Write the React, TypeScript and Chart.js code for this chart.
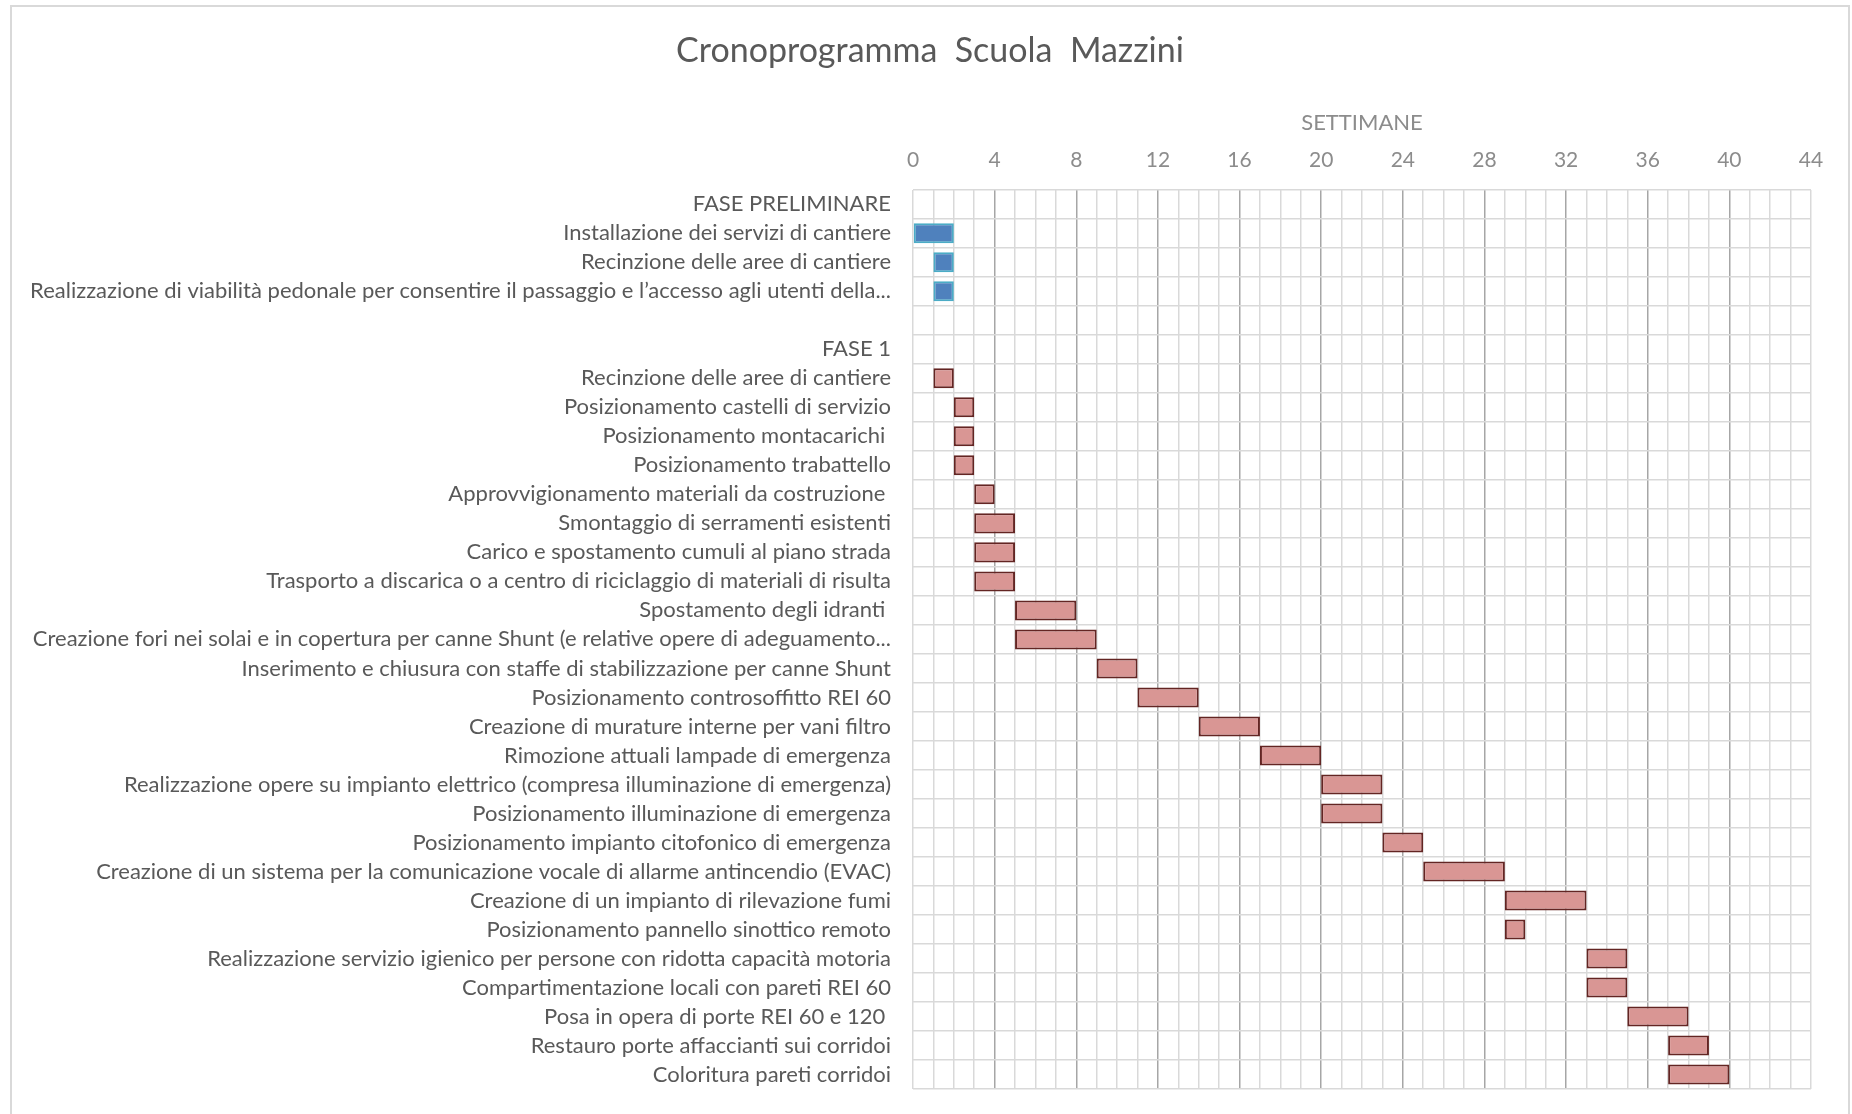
import React, { useEffect, useRef } from "react";
import { Chart, registerables } from "chart.js";

Chart.register(...registerables);

const categories: string[] = [
  "FASE PRELIMINARE",
  "Installazione dei servizi di cantiere",
  "Recinzione delle aree di cantiere",
  "Realizzazione di viabilità pedonale per consentire il passaggio e l’accesso agli utenti della...",
  "",
  "FASE 1",
  "Recinzione delle aree di cantiere",
  "Posizionamento castelli di servizio",
  "Posizionamento montacarichi ",
  "Posizionamento trabattello",
  "Approvvigionamento materiali da costruzione ",
  "Smontaggio di serramenti esistenti",
  "Carico e spostamento cumuli al piano strada",
  "Trasporto a discarica o a centro di riciclaggio di materiali di risulta",
  "Spostamento degli idranti ",
  "Creazione fori nei solai e in copertura per canne Shunt (e relative opere di adeguamento...",
  "Inserimento e chiusura con staffe di stabilizzazione per canne Shunt",
  "Posizionamento controsoffitto REI 60",
  "Creazione di murature interne per vani filtro",
  "Rimozione attuali lampade di emergenza",
  "Realizzazione opere su impianto elettrico (compresa illuminazione di emergenza)",
  "Posizionamento illuminazione di emergenza",
  "Posizionamento impianto citofonico di emergenza",
  "Creazione di un sistema per la comunicazione vocale di allarme antincendio (EVAC)",
  "Creazione di un impianto di rilevazione fumi",
  "Posizionamento pannello sinottico remoto",
  "Realizzazione servizio igienico per persone con ridotta capacità motoria",
  "Compartimentazione locali con pareti REI 60",
  "Posa in opera di porte REI 60 e 120 ",
  "Restauro porte affaccianti sui corridoi",
  "Coloritura pareti corridoi",
];

// start / end week of each task (null for headers and blank rows)
const startWeek: (number | null)[] = [
  null, 0, 1, 1, null, null, 1, 2, 2, 2, 3, 3, 3, 3, 5, 5, 9, 11, 14, 17, 20, 20, 23, 25, 29, 29, 33, 33, 35, 37, 37,
];
const endWeek: (number | null)[] = [
  null, 2, 2, 2, null, null, 2, 3, 3, 3, 4, 5, 5, 5, 8, 9, 11, 14, 17, 20, 23, 23, 25, 29, 33, 30, 35, 35, 38, 39, 40,
];
// phase of each row: "P" preliminare, "F1" fase 1
const phase: string[] = [
  "P", "P", "P", "P", "", "F1", "F1", "F1", "F1", "F1", "F1", "F1", "F1", "F1", "F1", "F1", "F1", "F1", "F1", "F1",
  "F1", "F1", "F1", "F1", "F1", "F1", "F1", "F1", "F1", "F1", "F1",
];

const xMin = 0;
const xMax = 44;
const majorStep = 4;

const FONT = "Lato, 'Liberation Sans', sans-serif";
const GRAY = "#595959";
const TICK_GRAY = "#8c8c8c";

export default function App() {
  const ref = useRef<HTMLCanvasElement | null>(null);

  useEffect(() => {
    document.body.style.margin = "0";
    const canvas = ref.current;
    if (!canvas) return;

    const mk = (p: string) =>
      categories.map((_, i) =>
        phase[i] === p && startWeek[i] !== null && endWeek[i] !== null
          ? [startWeek[i] as number, endWeek[i] as number]
          : null
      );

    const framePlugin = {
      id: "frame",
      beforeDraw(chart: any) {
        const c = chart.ctx;
        c.save();
        c.fillStyle = "#ffffff";
        c.fillRect(0, 0, chart.width, chart.height);
        c.strokeStyle = "#d9d9d9";
        c.lineWidth = 2;
        c.strokeRect(11, 6, 1838, 1200);
        c.restore();
      },
      afterLayout(chart: any) {
        // shift the title block so it is centred like the original
        if (chart.titleBlock) {
          chart.titleBlock.left = 49;
        }
      },
    };

    const chart = new Chart(canvas, {
      type: "bar",
      data: {
        labels: categories,
        datasets: [
          {
            label: "Fase preliminare",
            data: mk("P") as any,
            backgroundColor: "#4f81bd",
            borderColor: "#4bacc6",
            borderWidth: 2,
            borderSkipped: false,
            grouped: false,
            barPercentage: 0.69,
            categoryPercentage: 1,
          },
          {
            label: "Fase 1",
            data: mk("F1") as any,
            backgroundColor: "#d99694",
            borderColor: "#632523",
            borderWidth: 2,
            borderSkipped: false,
            grouped: false,
            barPercentage: 0.69,
            categoryPercentage: 1,
          },
        ],
      },
      options: {
        indexAxis: "y",
        responsive: false,
        animation: false,
        layout: { padding: { left: 0, right: 41, top: 0, bottom: 25 } },
        plugins: {
          legend: { display: false },
          tooltip: { enabled: false },
          title: {
            display: true,
            text: "Cronoprogramma  Scuola  Mazzini",
            color: GRAY,
            font: { family: FONT, size: 34, weight: "normal", lineHeight: 1.2 },
            padding: { top: 31, bottom: 8 },
          },
        },
        scales: {
          x: {
            type: "linear",
            position: "top",
            min: xMin,
            max: xMax,
            afterFit(scale: any) {
              scale.height = 110;
            },
            title: {
              display: true,
              text: "SETTIMANE",
              color: TICK_GRAY,
              font: { family: FONT, size: 22, lineHeight: 1.2 },
              padding: { top: 30, bottom: 0 },
            },
            ticks: {
              stepSize: 1,
              autoSkip: false,
              maxRotation: 0,
              padding: 17,
              color: TICK_GRAY,
              font: { family: FONT, size: 21 },
              callback: (v: any) => (Number(v) % majorStep === 0 ? String(v) : ""),
            },
            grid: {
              drawTicks: false,
              lineWidth: 1.5,
              color: (ctx: any) => {
                const v = ctx.tick ? ctx.tick.value : 0;
                return v % majorStep === 0 && v !== xMin && v !== xMax ? "#a6a6a6" : "#d9d9d9";
              },
            },
            border: { display: false },
          },
          y: {
            type: "category",
            afterFit(scale: any) {
              scale.width = 913;
              scale.paddingTop = 0;
              scale.paddingBottom = 0;
            },
            ticks: {
              autoSkip: false,
              padding: 22,
              color: GRAY,
              font: { family: FONT, size: 22 },
            },
            grid: {
              drawTicks: false,
              color: "#d9d9d9",
              lineWidth: 1.5,
              offset: true,
            },
            border: { display: false },
          },
        },
      },
      plugins: [framePlugin],
    });

    return () => chart.destroy();
  }, []);

  return <canvas ref={ref} width={1852} height={1114} style={{ display: "block" }} />;
}
